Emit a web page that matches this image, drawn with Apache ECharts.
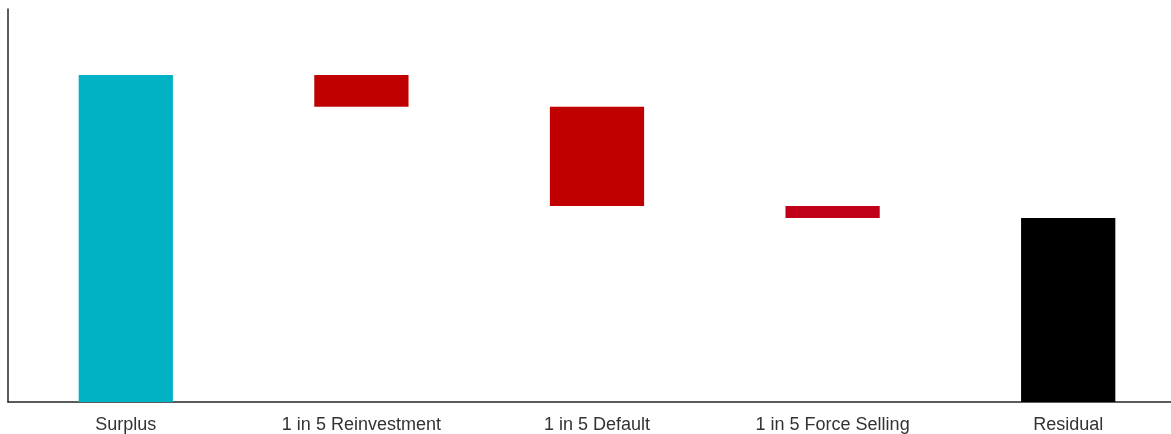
<!DOCTYPE html>
<html>
<head>
<meta charset="utf-8">
<script src="https://cdn.jsdelivr.net/npm/echarts@6/dist/echarts.min.js"></script>
<style>html,body{margin:0;padding:0;background:#fff;overflow:hidden}#c{width:1171px;height:434px}</style>
</head>
<body>
<div id="c"></div>
<script>
const categories = ['Surplus', '1 in 5 Reinvestment', '1 in 5 Default', '1 in 5 Force Selling', 'Residual'];
const surplus = 83.2;
const impacts = [8.1, 25.2, 3.05];
const residual = 46.85;
const colors = ['#00B2C4', '#C00000', '#C00000', '#C00018', '#000000'];

const bases = [0];
const heights = [surplus];
let level = surplus;
impacts.forEach(v => { level -= v; bases.push(level); heights.push(v); });
bases.push(0);
heights.push(residual);

const chart = echarts.init(document.getElementById('c'));
chart.setOption({
  animation: false,
  grid: { left: 8, width: 1178, top: 9, height: 393, outerBoundsMode: 'none', containLabel: false },
  xAxis: {
    type: 'category',
    data: categories,
    axisLine: { lineStyle: { color: '#262626', width: 1.5 } },
    axisTick: { show: false },
    axisLabel: { color: '#333', fontSize: 18, fontFamily: 'Liberation Sans, Arial, sans-serif', margin: 14 }
  },
  yAxis: {
    type: 'value',
    min: 0, max: 100,
    axisLine: { show: true, lineStyle: { color: '#262626', width: 1.5 } },
    axisTick: { show: false },
    axisLabel: { show: false },
    splitLine: { show: false }
  },
  series: [
    { type: 'bar', stack: 'w', data: bases, itemStyle: { color: 'transparent' }, barWidth: '40%', silent: true },
    { type: 'bar', stack: 'w', data: heights.map((v, i) => ({ value: v, itemStyle: { color: colors[i] } })), barWidth: '40%' }
  ]
});
</script>
</body>
</html>
